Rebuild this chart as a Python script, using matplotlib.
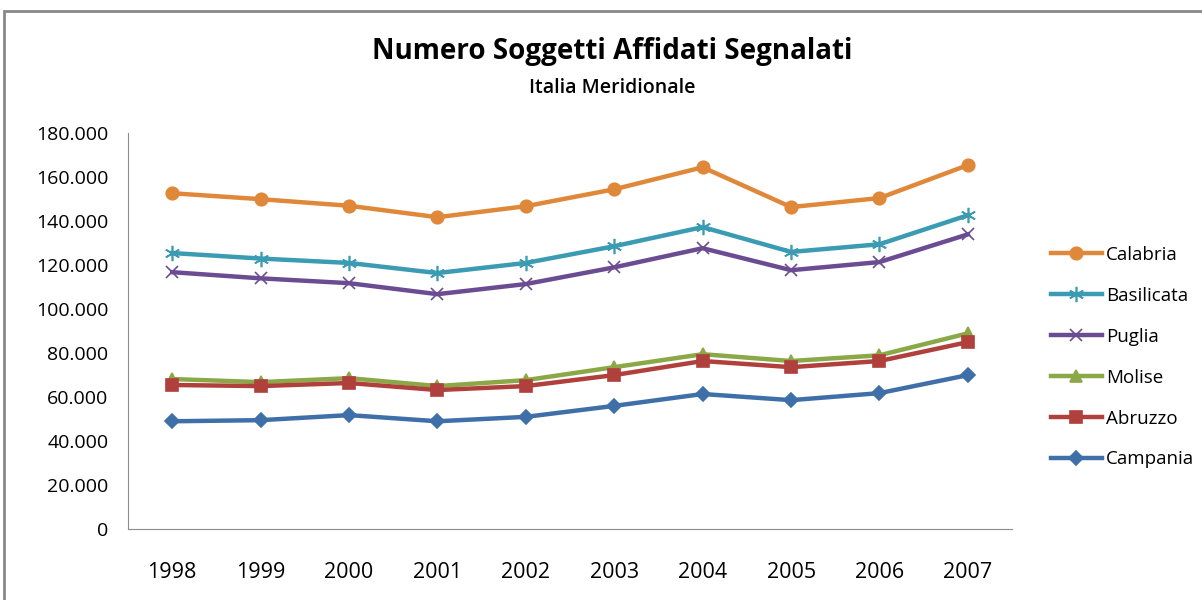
import matplotlib.pyplot as plt
from matplotlib.patches import Rectangle

# Dati
anni = ["1998", "1999", "2000", "2001", "2002", "2003", "2004", "2005", "2006", "2007"]
calabria = [152700, 150000, 147000, 141800, 146800, 154500, 164500, 146400, 150500, 165500]
basilicata = [125500, 123000, 121000, 116400, 121000, 128600, 137300, 126000, 129500, 142700]
puglia = [116800, 114000, 111800, 106800, 111400, 119000, 127700, 117700, 121400, 134000]
molise = [68200, 66800, 68600, 65000, 67700, 73600, 79500, 76400, 79000, 89000]
abruzzo = [65500, 65000, 66400, 63200, 65000, 70000, 76400, 73600, 76400, 85000]
campania = [49000, 49500, 51800, 49000, 51000, 56000, 61400, 58600, 61800, 70000]

serie = [
    ("Calabria", calabria, "#E0883A", "o", 9),
    ("Basilicata", basilicata, "#3A9BB3", (6, 2, 0), 11),
    ("Puglia", puglia, "#6B4C93", "x", 9),
    ("Molise", molise, "#8AA846", "^", 9),
    ("Abruzzo", abruzzo, "#B0403C", "s", 8),
    ("Campania", campania, "#3F6FA8", "D", 7),
]

plt.rcParams["font.family"] = ["Open Sans", "DejaVu Sans"]

fig = plt.figure(figsize=(12.02, 6), dpi=100)
ax = fig.add_axes([0.1065, 0.1183, 0.7355, 0.6597])

# Cornice del grafico
fig.patches.append(Rectangle((4 / 1202, -0.1), 1.2, 1 - 11 / 600 + 0.1,
                             transform=fig.transFigure, fill=False,
                             edgecolor="#888888", linewidth=2))

x = list(range(len(anni)))
for nome, valori, colore, marker, ms in serie:
    ax.plot(x, valori, color=colore, linewidth=3.2, marker=marker,
            markersize=ms, markeredgewidth=1.2, label=nome)

ax.set_xlim(-0.5, len(anni) - 0.5)
ax.set_ylim(0, 180000)
ax.set_xticks(x)
ax.set_xticklabels(anni, fontsize=15.5)
ax.set_yticks(range(0, 180001, 20000))
ax.set_yticklabels(["0"] + [f"{v // 1000}.000" for v in range(20000, 180001, 20000)],
                   fontsize=14)
ax.tick_params(axis="both", length=0)
ax.tick_params(axis="x", pad=24)
ax.tick_params(axis="y", pad=14)
for lato in ["top", "right"]:
    ax.spines[lato].set_visible(False)
for lato in ["left", "bottom"]:
    ax.spines[lato].set_color("#8C8C8C")

fig.text(0.509, 0.914, "Numero Soggetti Affidati Segnalati", ha="center",
         va="center", fontsize=20, fontweight="bold")
fig.text(0.509, 0.854, "Italia Meridionale", ha="center", va="center",
         fontsize=14, fontweight="semibold")

ax.legend(loc="center left", bbox_to_anchor=(1.025, 0.434), frameon=False,
          fontsize=13.5, labelspacing=1.22, handlelength=2.7, handletextpad=0.25)

fig.savefig("out.png", dpi=100)
